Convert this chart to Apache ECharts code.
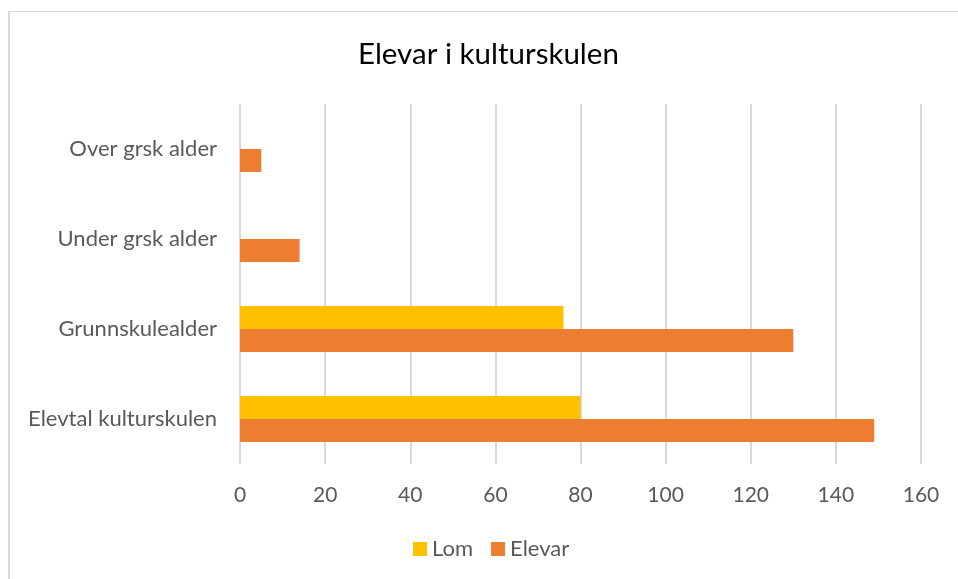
<!DOCTYPE html>
<html>
<head>
<meta charset="utf-8">
<script src="https://cdn.jsdelivr.net/npm/echarts@6/dist/echarts.min.js"></script>
<style>
  html, body { margin: 0; padding: 0; background: #fff; }
  #frame { position: absolute; left: 8px; top: 11px; width: 960px; height: 580px;
           border-top: 1px solid #d9d9d9; border-left: 2px solid #d9d9d9; }
  #chart { position: absolute; left: 0; top: 0; width: 958px; height: 579px; }
</style>
</head>
<body>
<div id="frame"></div>
<div id="chart"></div>
<script>
// kategoriar, nedst til øvst
const categories = ['Elevtal kulturskulen', 'Grunnskulealder', 'Under grsk alder', 'Over grsk alder']
const lomValues = [80, 76, 0, 0]
const elevarValues = [149, 130, 14, 5]
const seriesNames = ['Lom', 'Elevar']

const font = 'Lato, "Open Sans", sans-serif'

const myChart = echarts.init(document.getElementById('chart'))

const option = {
  animation: false,
  title: {
    text: 'Elevar i kulturskulen',
    left: 353,
    top: 34,
    textStyle: { fontFamily: font, fontSize: 29.5, fontWeight: 'normal', color: '#000' }
  },
  legend: {
    data: seriesNames,
    bottom: 14,
    left: 408,
    itemWidth: 14,
    itemHeight: 14,
    itemGap: 18,
    icon: 'rect',
    textStyle: { fontFamily: font, fontSize: 22, color: '#595959' }
  },
  grid: {
    left: 240,
    right: 37,
    top: 104,
    bottom: 115
  },
  xAxis: {
    type: 'value',
    min: 0,
    max: 160,
    interval: 20,
    axisLine: { show: false },
    axisTick: { show: false },
    splitLine: { lineStyle: { color: '#d9d9d9', width: 2 } },
    axisLabel: { margin: 21, fontFamily: font, fontSize: 21, color: '#595959' }
  },
  yAxis: {
    type: 'category',
    data: categories,
    axisLine: { show: false },
    axisTick: { show: false },
    axisLabel: { margin: 23, fontFamily: font, fontSize: 22, color: '#595959' }
  },
  series: [
    {
      name: seriesNames[0],
      type: 'bar',
      data: lomValues,
      barGap: '0%',
      barCategoryGap: '49%',
      itemStyle: { color: '#FFC000' }
    },
    {
      name: seriesNames[1],
      type: 'bar',
      data: elevarValues,
      barGap: '0%',
      barCategoryGap: '49%',
      itemStyle: { color: '#ED7D31' }
    }
  ]
}

myChart.setOption(option)
</script>
</body>
</html>
